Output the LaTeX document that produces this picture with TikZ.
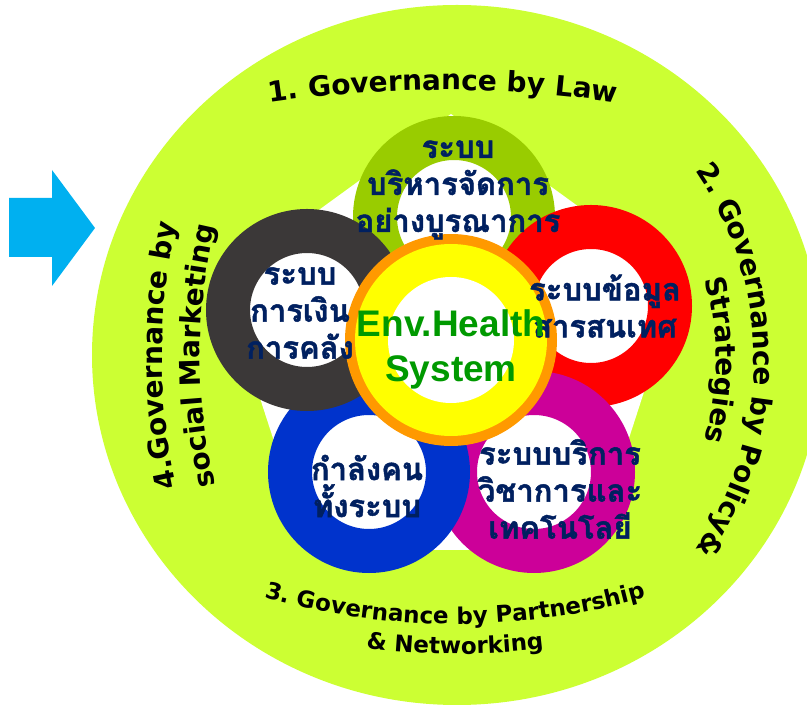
\documentclass[tikz,border=0pt]{standalone}
\usepackage{fontspec}
\setmainfont{DejaVu Sans}
\newfontfamily\thaifont[Script=Thai, FakeBold=1.5]{Loma}
\newfontfamily\hlthfont{Liberation Sans}
\usetikzlibrary{decorations.text}
\definecolor{limegreen}{HTML}{CCFF33}
\definecolor{olivering}{HTML}{99CC00}
\definecolor{redring}{HTML}{FF0000}
\definecolor{grayring}{HTML}{3B3838}
\definecolor{bluering}{HTML}{0033CC}
\definecolor{magring}{HTML}{CC0099}
\definecolor{yellowring}{HTML}{FFFF00}
\definecolor{orangering}{HTML}{FF9900}
\definecolor{arrowblue}{HTML}{00B0F0}
\definecolor{navytext}{HTML}{002060}
\definecolor{healthgreen}{HTML}{009900}
\newcommand\govfont{\bfseries\fontsize{28}{30}\selectfont}
\newcommand\govsmall{\bfseries\fontsize{23}{26}\selectfont}

\begin{document}
\begin{tikzpicture}[x=1pt, y=1pt,
    ring/.style={circle, draw=#1, line width=44pt, fill=white, minimum size=158pt, inner sep=0pt},
    thai/.style={text=navytext, align=center, font=\thaifont\bfseries\fontsize{31}{37}\selectfont},
    arctext/.style={decorate, decoration={text along path, text align=center, text={#1}}}]
    \useasboundingbox (0,0) rectangle (807,707);
    \clip (0,0) rectangle (807,707);
    % outer governance ring
    \fill[limegreen] (457,352) ellipse [x radius=365, y radius=350];
    \fill[white] (451,352) +(90:241) -- +(162:241) -- +(234:241) -- +(306:241) -- +(18:241) -- cycle;
    % arrow
    \fill[arrowblue] (9,509) -- (52,509) -- (52,537) -- (95,479) -- (52,421) -- (52,450) -- (9,450) -- cycle;
    % five rings
    \node[ring=olivering] (admin) at (454,490) {};
    \node[ring=redring] (info) at (591,401) {};
    \node[ring=magring] (service) at (534,235) {};
    \node[ring=bluering] (staff) at (369,235) {};
    \node[ring=grayring] (finance) at (307,397) {};
    % centre
    \fill[orangering] (451,367) circle (106);
    \fill[yellowring] (451,367) circle (96);
    \fill[white] (451,367) circle (63);
    % ring labels
    \node[thai] (admintxt) at (458,517) {ระบบ\\บริหารจัดการ\\อย่างบูรณาการ};
    \node[thai] (infotxt) at (605,401) {ระบบข้อมูล\\สารสนเทศ};
    \node[thai] (financetxt) at (300,394) {ระบบ\\การเงิน\\การคลัง};
    \node[thai] (stafftxt) at (367,221) {กำลังคน\\ทั้งระบบ};
    \node[thai] (servicetxt) at (560,218) {ระบบบริการ\\วิชาการและ\\เทคโนโลยี};
    \node[text=healthgreen, align=center, font=\hlthfont\bfseries\fontsize{37}{45}\selectfont] (envhealth) at (451,358) {Env.Health\\System};
    % governance texts
    \path[arctext={|\govfont|1. Governance by Law}] (443,-583) ++(100:1200) arc[start angle=100, end angle=80, radius=1200];
    \path[arctext={|\govfont|2. Governance by Policy{\&}}] (418,347) ++(40:336) arc[start angle=40, end angle=-40, radius=336];
    \path[arctext={|\govfont|Strategies}] (418,347) ++(40:298) arc[start angle=40, end angle=-40, radius=298];
    \path[arctext={|\govsmall|3. Governance by Partnership}] (455,783) ++(250:700) arc[start angle=250, end angle=290, radius=700];
    \path[arctext={|\govsmall|{\&} Networking}] (455,783) ++(250:730) arc[start angle=250, end angle=290, radius=730];
    \path[arctext={|\govfont|4.Governance by}] (762,351) ++(196:600) arc[start angle=196, end angle=164, radius=600];
    \path[arctext={|\govfont|social Marketing}] (762,351) ++(196:562) arc[start angle=196, end angle=164, radius=562];
\end{tikzpicture}
\end{document}
